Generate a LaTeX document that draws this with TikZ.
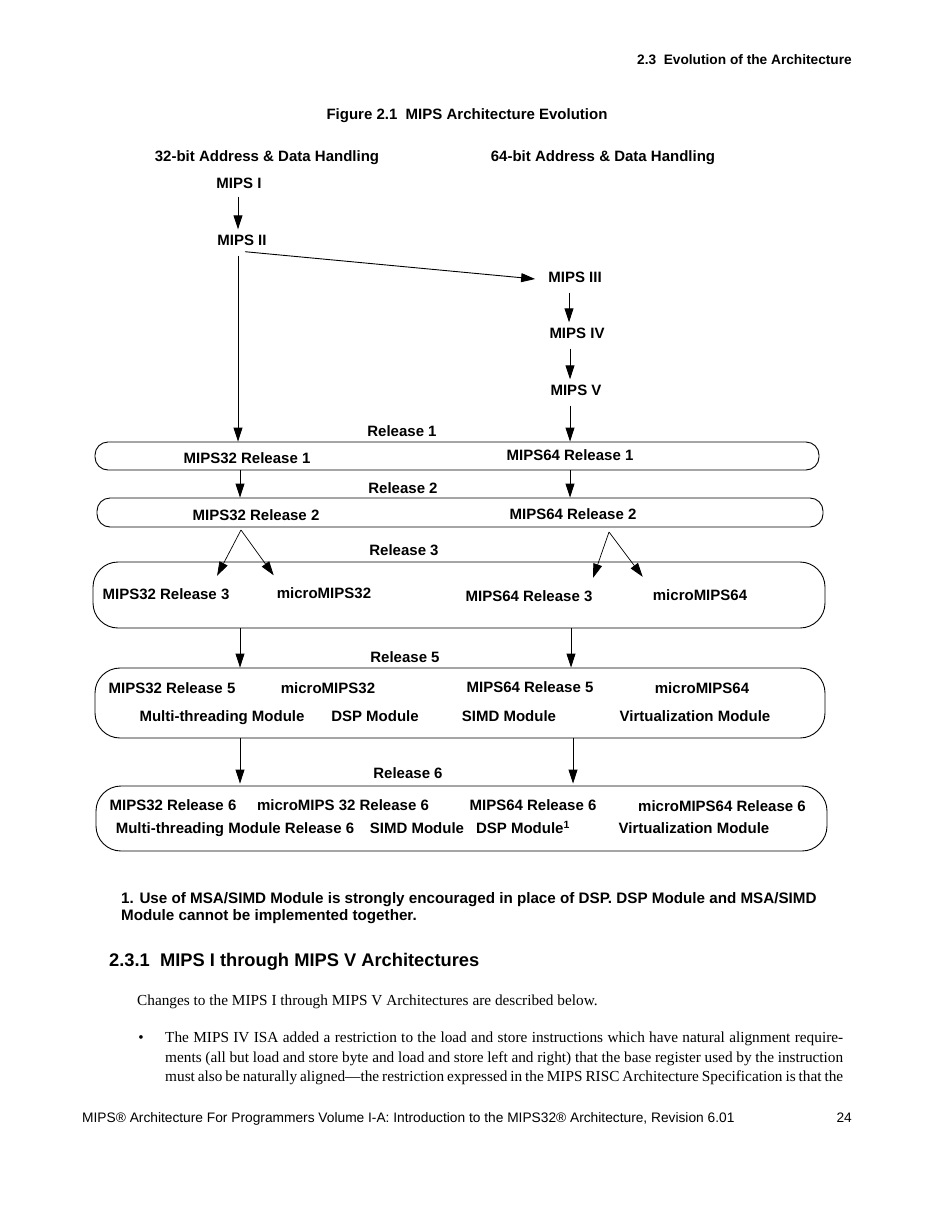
\documentclass[tikz,border=0pt]{standalone}
\usepackage{fontspec}
\setmainfont{Liberation Serif}
\newfontfamily\hv{Liberation Sans}
\usetikzlibrary{arrows.meta}
\begin{document}
\begin{tikzpicture}[x=1pt,y=-1pt,
  dl/.style={font=\hv\bfseries\fontsize{15}{18}\selectfont, inner sep=0pt, text height=11pt, text depth=0pt, anchor=center},
  hdr/.style={font=\hv\bfseries\fontsize{13.7}{16}\selectfont, inner sep=0pt},
  fn/.style={font=\hv\bfseries\fontsize{15.2}{18}\selectfont, inner sep=0pt},
  sect/.style={font=\hv\bfseries\fontsize{18.3}{22}\selectfont, inner sep=0pt},
  body/.style={font=\fontsize{15.3}{18}\selectfont, inner sep=0pt},
  foot/.style={font=\hv\fontsize{13.75}{17}\selectfont, inner sep=0pt},
  boxa/.style={draw, line width=0.9pt, rounded corners=13pt, inner sep=0pt},
  boxb/.style={draw, line width=0.9pt, rounded corners=25pt, inner sep=0pt},
  arr/.style={line width=0.9pt, -{Triangle[length=14pt,width=9pt]}},
  sarr/.style={line width=0.7pt, -{Triangle[length=14pt,width=9pt]}}]
\useasboundingbox (0,0) rectangle (935,1210);
\fill[white] (0,0) rectangle (935,1210);

% header and title
\node[hdr, anchor=base east] (hdr) at (852,64) {2.3\ \ Evolution of the Architecture};
\node[dl, anchor=base] (fig) at (467,119.5) {Figure 2.1\ \ MIPS Architecture Evolution};
\node[dl] (h32) at (267,156) {32-bit Address \& Data Handling};
\node[dl] (h64) at (603,156) {64-bit Address \& Data Handling};

% early architectures
\node[dl] (m1) at (239,183) {MIPS I};
\node[dl] (m2) at (242,240) {MIPS II};
\node[dl] (m3) at (575,277) {MIPS III};
\node[dl] (m4) at (577,333) {MIPS IV};
\node[dl] (m5) at (576,390) {MIPS V};

% boxes
\node[boxa, minimum width=724pt, minimum height=28pt] (b1) at (457,456) {};
\node[boxa, minimum width=726pt, minimum height=29pt] (b2) at (460,512.5) {};
\node[boxb, minimum width=732pt, minimum height=66pt] (b3) at (459,595) {};
\node[boxb, minimum width=730pt, minimum height=70pt] (b5) at (460,703) {};
\node[boxb, minimum width=731pt, minimum height=65pt] (b6) at (461.5,818.5) {};

% release labels
\node[dl] (rl1) at (402,431) {Release 1};
\node[dl] (rl2) at (403,488) {Release 2};
\node[dl] (rl3) at (404,550) {Release 3};
\node[dl] (rl5) at (405,657) {Release 5};
\node[dl] (rl6) at (408,773) {Release 6};

% release 1, 2
\node[dl] (r1a) at (247,458) {MIPS32 Release 1};
\node[dl] (r1b) at (570,455) {MIPS64 Release 1};
\node[dl] (r2a) at (256,515) {MIPS32 Release 2};
\node[dl] (r2b) at (573,514) {MIPS64 Release 2};

% release 3
\node[dl] (r3a) at (166,594) {MIPS32 Release 3};
\node[dl] (r3b) at (324,593) {microMIPS32};
\node[dl] (r3c) at (529,596) {MIPS64 Release 3};
\node[dl] (r3d) at (700,595) {microMIPS64};

% release 5
\node[dl] (r5a) at (172,688) {MIPS32 Release 5};
\node[dl] (r5b) at (328,688) {microMIPS32};
\node[dl] (r5c) at (530,687) {MIPS64 Release 5};
\node[dl] (r5d) at (702,688) {microMIPS64};
\node[dl] (r5e) at (222,716) {Multi-threading Module};
\node[dl] (r5f) at (375,716) {DSP Module};
\node[dl] (r5g) at (509,716) {SIMD Module};
\node[dl] (r5h) at (695,716) {Virtualization Module};

% release 6
\node[dl] (r6a) at (173,805) {MIPS32 Release 6};
\node[dl] (r6b) at (343,805) {microMIPS 32 Release 6};
\node[dl] (r6c) at (533,805) {MIPS64 Release 6};
\node[dl] (r6d) at (722,806) {microMIPS64 Release 6};
\node[dl] (r6e) at (235,828) {Multi-threading Module Release 6};
\node[dl] (r6f) at (417,828) {SIMD Module};
\node[dl] (r6g) at (523,828) {DSP Module\textsuperscript{1}};
\node[dl] (r6h) at (694,828) {Virtualization Module};

% connectors
\coordinate (c32) at (240,0);
\coordinate (c64) at (571,0);
\coordinate (sp32) at (241,530);
\coordinate (sp64) at (609,532);
\draw[arr] ([shift={(-1,8)}]m1.south) -- ([shift={(-1,-5)}]m1.south |- m2.north);
\draw[arr] ([shift={(-4,10)}]m2.south) -- ([shift={(-4,0)}]m2.south |- b1.north);
\draw[arr] ([shift={(3,6)}]m2.south) -- ([shift={(-13,2)}]m3.west);
\draw[arr] ([shift={(-6,10)}]m3.south) -- ([shift={(-6,-5)}]m3.south |- m4.north);
\draw[arr] ([shift={(-7,10)}]m4.south) -- ([shift={(-7,-5)}]m4.south |- m5.north);
\draw[arr] ([shift={(-6,10)}]m5.south) -- ([shift={(-6,0)}]m5.south |- b1.north);
\draw[arr] (b1.south -| c32) -- (b2.north -| c32);
\draw[arr] ([xshift=-1pt]b1.south -| c64) -- ([xshift=-1pt]b2.north -| c64);
\draw[sarr] (sp32) -- ([shift={(-12.5,-12.5)}]r3a.north east);
\draw[sarr] (sp32) -- ([shift={(-3,-12)}]r3b.north west);
\draw[sarr] (sp64) -- ([shift={(0.5,-12.5)}]r3c.north east);
\draw[sarr] (sp64) -- ([shift={(-10,-12.5)}]r3d.north west);
\draw[arr] (b3.south -| c32) -- (b5.north -| c32);
\draw[arr] (b3.south -| c64) -- (b5.north -| c64);
\draw[arr] (b5.south -| c32) -- ([yshift=2pt]b6.north -| c32);
\draw[arr] ([xshift=2pt]b5.south -| c64) -- ([shift={(2,-2)}]b6.north -| c64);

% footnote and text
\node[fn, anchor=base west] (fn1) at (121,903.5) {1. Use of MSA/SIMD Module is strongly encouraged in place of DSP. DSP Module and MSA/SIMD};
\node[fn, anchor=base west] (fn2) at (121,920.5) {Module cannot be implemented together.};
\node[sect, anchor=base west] (sec) at (109,966.5) {2.3.1\ \ MIPS I through MIPS V Architectures};
\node[body, anchor=base west] (p1) at (137,1005.5) {Changes to the MIPS I through MIPS V Architectures are described below.};
\node[body, anchor=base] (bul) at (141,1042) {•};
\node[body, anchor=base west] (l1) at (165,1042) {\makebox[678pt][s]{The MIPS IV ISA added a restriction to the load and store instructions which have natural alignment require-}};
\node[body, anchor=base west] (l2) at (165,1062) {\makebox[678pt][s]{ments (all but load and store byte and load and store left and right) that the base register used by the instruction}};
\node[body, anchor=base west] (l3) at (165,1081) {\makebox[678pt][s]{must also be naturally aligned—the restriction expressed in the MIPS RISC Architecture Specification is that the}};
\node[foot, anchor=base west] (ft) at (82,1122) {MIPS® Architecture For Programmers Volume I-A: Introduction to the MIPS32® Architecture, Revision 6.01};
\node[foot, anchor=base east] (pg) at (852,1122) {24};
\end{tikzpicture}
\end{document}
